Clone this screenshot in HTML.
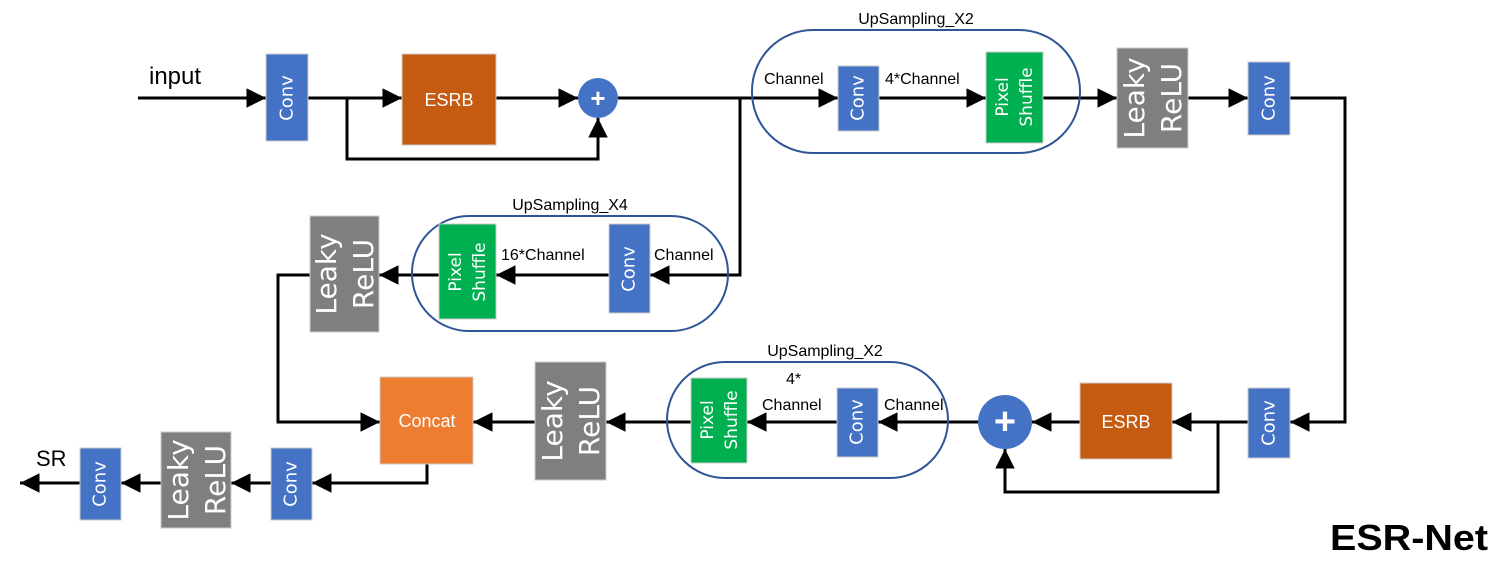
<!DOCTYPE html>
<html><head><meta charset="utf-8"><style>
html,body{margin:0;padding:0;background:#fff;width:1506px;height:581px;overflow:hidden}
svg text{font-family:"Liberation Sans",sans-serif}
svg .r text{font-family:"DejaVu Sans",sans-serif;fill:#fff}
.l{font-size:16px;fill:#000}
</style></head><body>
<svg width="1506" height="581" viewBox="0 0 1506 581" xmlns="http://www.w3.org/2000/svg">
<defs>
<marker id="a" viewBox="0 0 10 10" refX="10" refY="5" markerWidth="6.5" markerHeight="6.5" markerUnits="strokeWidth" orient="auto">
<path d="M0,0 L10,5 L0,10 z" fill="#000"/></marker>
</defs>
<g fill="none" stroke="#000" stroke-width="3">
<line x1="138" y1="98" x2="266" y2="98" marker-end="url(#a)"/>
<line x1="308" y1="98" x2="402" y2="98" marker-end="url(#a)"/>
<line x1="496" y1="98" x2="578" y2="98" marker-end="url(#a)"/>
<polyline points="347,98 347,159 598,159 598,118" marker-end="url(#a)"/>
<line x1="618" y1="98" x2="838" y2="98" marker-end="url(#a)"/>
<line x1="879" y1="98" x2="986" y2="98" marker-end="url(#a)"/>
<line x1="1043" y1="98" x2="1117" y2="98" marker-end="url(#a)"/>
<line x1="1188" y1="98" x2="1248" y2="98" marker-end="url(#a)"/>
<polyline points="1290,98 1345,98 1345,422 1290,422" marker-end="url(#a)"/>
<polyline points="740,98 740,275 650,275" marker-end="url(#a)"/>
<line x1="609" y1="275" x2="496" y2="275" marker-end="url(#a)"/>
<line x1="439" y1="275" x2="379" y2="275" marker-end="url(#a)"/>
<polyline points="310,275 278,275 278,422 380,422" marker-end="url(#a)"/>
<line x1="1248" y1="422" x2="1172" y2="422" marker-end="url(#a)"/>
<polyline points="1218,422 1218,492 1005,492 1005,449" marker-end="url(#a)"/>
<line x1="1080" y1="422" x2="1032" y2="422" marker-end="url(#a)"/>
<line x1="978" y1="422" x2="878" y2="422" marker-end="url(#a)"/>
<line x1="837" y1="422" x2="747" y2="422" marker-end="url(#a)"/>
<line x1="691" y1="422" x2="606" y2="422" marker-end="url(#a)"/>
<line x1="535" y1="422" x2="473" y2="422" marker-end="url(#a)"/>
<polyline points="427,464 427,483 312,483" marker-end="url(#a)"/>
<line x1="271" y1="483" x2="231" y2="483" marker-end="url(#a)"/>
<line x1="161" y1="483" x2="121" y2="483" marker-end="url(#a)"/>
<line x1="80" y1="483" x2="20" y2="483" marker-end="url(#a)"/>
</g>
<g fill="none" stroke="#2F5597" stroke-width="2">
<rect x="752" y="30" width="328" height="123" rx="61"/>
<rect x="412" y="216" width="316" height="115" rx="57"/>
<rect x="667" y="362" width="281" height="116" rx="58"/>
</g>
<g stroke="#ccc" stroke-width="1">
<rect x="266" y="54" width="42" height="87" fill="#4472C4"/>
<rect x="402" y="54" width="94" height="91" fill="#C55A11"/>
<rect x="838" y="66" width="41" height="65" fill="#4472C4"/>
<rect x="986" y="52" width="57" height="91" fill="#00B050"/>
<rect x="1117" y="48" width="71" height="100" fill="#7F7F7F"/>
<rect x="1248" y="62" width="42" height="73" fill="#4472C4"/>
<rect x="609" y="224" width="41" height="89" fill="#4472C4"/>
<rect x="439" y="224" width="57" height="95" fill="#00B050"/>
<rect x="310" y="216" width="69" height="116" fill="#7F7F7F"/>
<rect x="1248" y="388" width="42" height="70" fill="#4472C4"/>
<rect x="1080" y="383" width="92" height="76" fill="#C55A11"/>
<rect x="837" y="388" width="41" height="69" fill="#4472C4"/>
<rect x="691" y="378" width="56" height="85" fill="#00B050"/>
<rect x="535" y="362" width="71" height="118" fill="#7F7F7F"/>
<rect x="380" y="377" width="93" height="87" fill="#ED7D31"/>
<rect x="271" y="448" width="41" height="72" fill="#4472C4"/>
<rect x="161" y="432" width="70" height="96" fill="#7F7F7F"/>
<rect x="80" y="448" width="41" height="72" fill="#4472C4"/>
</g>
<circle cx="598" cy="98" r="20" fill="#4472C4"/>
<text x="598" y="98" fill="#fff" font-size="26" text-anchor="middle" dominant-baseline="central" font-weight="bold">+</text>
<circle cx="1005" cy="422" r="27" fill="#4472C4"/>
<text x="1005" y="422" fill="#fff" font-size="38" text-anchor="middle" dominant-baseline="central" font-weight="bold">+</text>
<g class="r" text-anchor="middle" dominant-baseline="central">
<text font-size="18" transform="translate(287,98) rotate(-90)">Conv</text>
<text font-size="18" transform="translate(858,98) rotate(-90)">Conv</text>
<text font-size="18" transform="translate(1269,98) rotate(-90)">Conv</text>
<text font-size="18" transform="translate(629,269) rotate(-90)">Conv</text>
<text font-size="18" transform="translate(1269,423) rotate(-90)">Conv</text>
<text font-size="18" transform="translate(857,422) rotate(-90)">Conv</text>
<text font-size="18" transform="translate(291,484) rotate(-90)">Conv</text>
<text font-size="18" transform="translate(100,484) rotate(-90)">Conv</text>
<text font-size="17" transform="translate(1014,97) rotate(-90)"><tspan x="0" dy="-11">Pixel</tspan><tspan x="0" dy="24">Shuffle</tspan></text>
<text font-size="17" transform="translate(467,272) rotate(-90)"><tspan x="0" dy="-11">Pixel</tspan><tspan x="0" dy="24">Shuffle</tspan></text>
<text font-size="17" transform="translate(719,420) rotate(-90)"><tspan x="0" dy="-11">Pixel</tspan><tspan x="0" dy="24">Shuffle</tspan></text>
<text font-size="28" transform="translate(1152,98) rotate(-90)"><tspan x="0" dy="-18">Leaky</tspan><tspan x="0" dy="37">ReLU</tspan></text>
<text font-size="28" transform="translate(344,274) rotate(-90)"><tspan x="0" dy="-18">Leaky</tspan><tspan x="0" dy="37">ReLU</tspan></text>
<text font-size="28" transform="translate(570,421) rotate(-90)"><tspan x="0" dy="-18">Leaky</tspan><tspan x="0" dy="37">ReLU</tspan></text>
<text font-size="28" transform="translate(196,480) rotate(-90)"><tspan x="0" dy="-18">Leaky</tspan><tspan x="0" dy="37">ReLU</tspan></text>
</g>
<g fill="#fff" text-anchor="middle" dominant-baseline="central" font-size="18">
<text x="449" y="100">ESRB</text>
<text x="1126" y="422">ESRB</text>
<text x="427" y="421">Concat</text>
</g>
<g class="l">
<text x="916" y="24" text-anchor="middle">UpSampling_X2</text>
<text x="570" y="210" text-anchor="middle">UpSampling_X4</text>
<text x="825" y="356" text-anchor="middle">UpSampling_X2</text>
<text x="764" y="84">Channel</text>
<text x="885" y="84">4*Channel</text>
<text x="501" y="260">16*Channel</text>
<text x="654" y="260">Channel</text>
<text x="884" y="410">Channel</text>
<text x="786" y="384">4*</text>
<text x="762" y="410">Channel</text>
</g>
<text x="149" y="84" font-size="24">input</text>
<text x="36" y="466" font-size="22">SR</text>
<text x="1488" y="550" font-size="36" font-weight="bold" text-anchor="end" textLength="158" lengthAdjust="spacingAndGlyphs">ESR-Net</text>
</svg>
</body></html>
